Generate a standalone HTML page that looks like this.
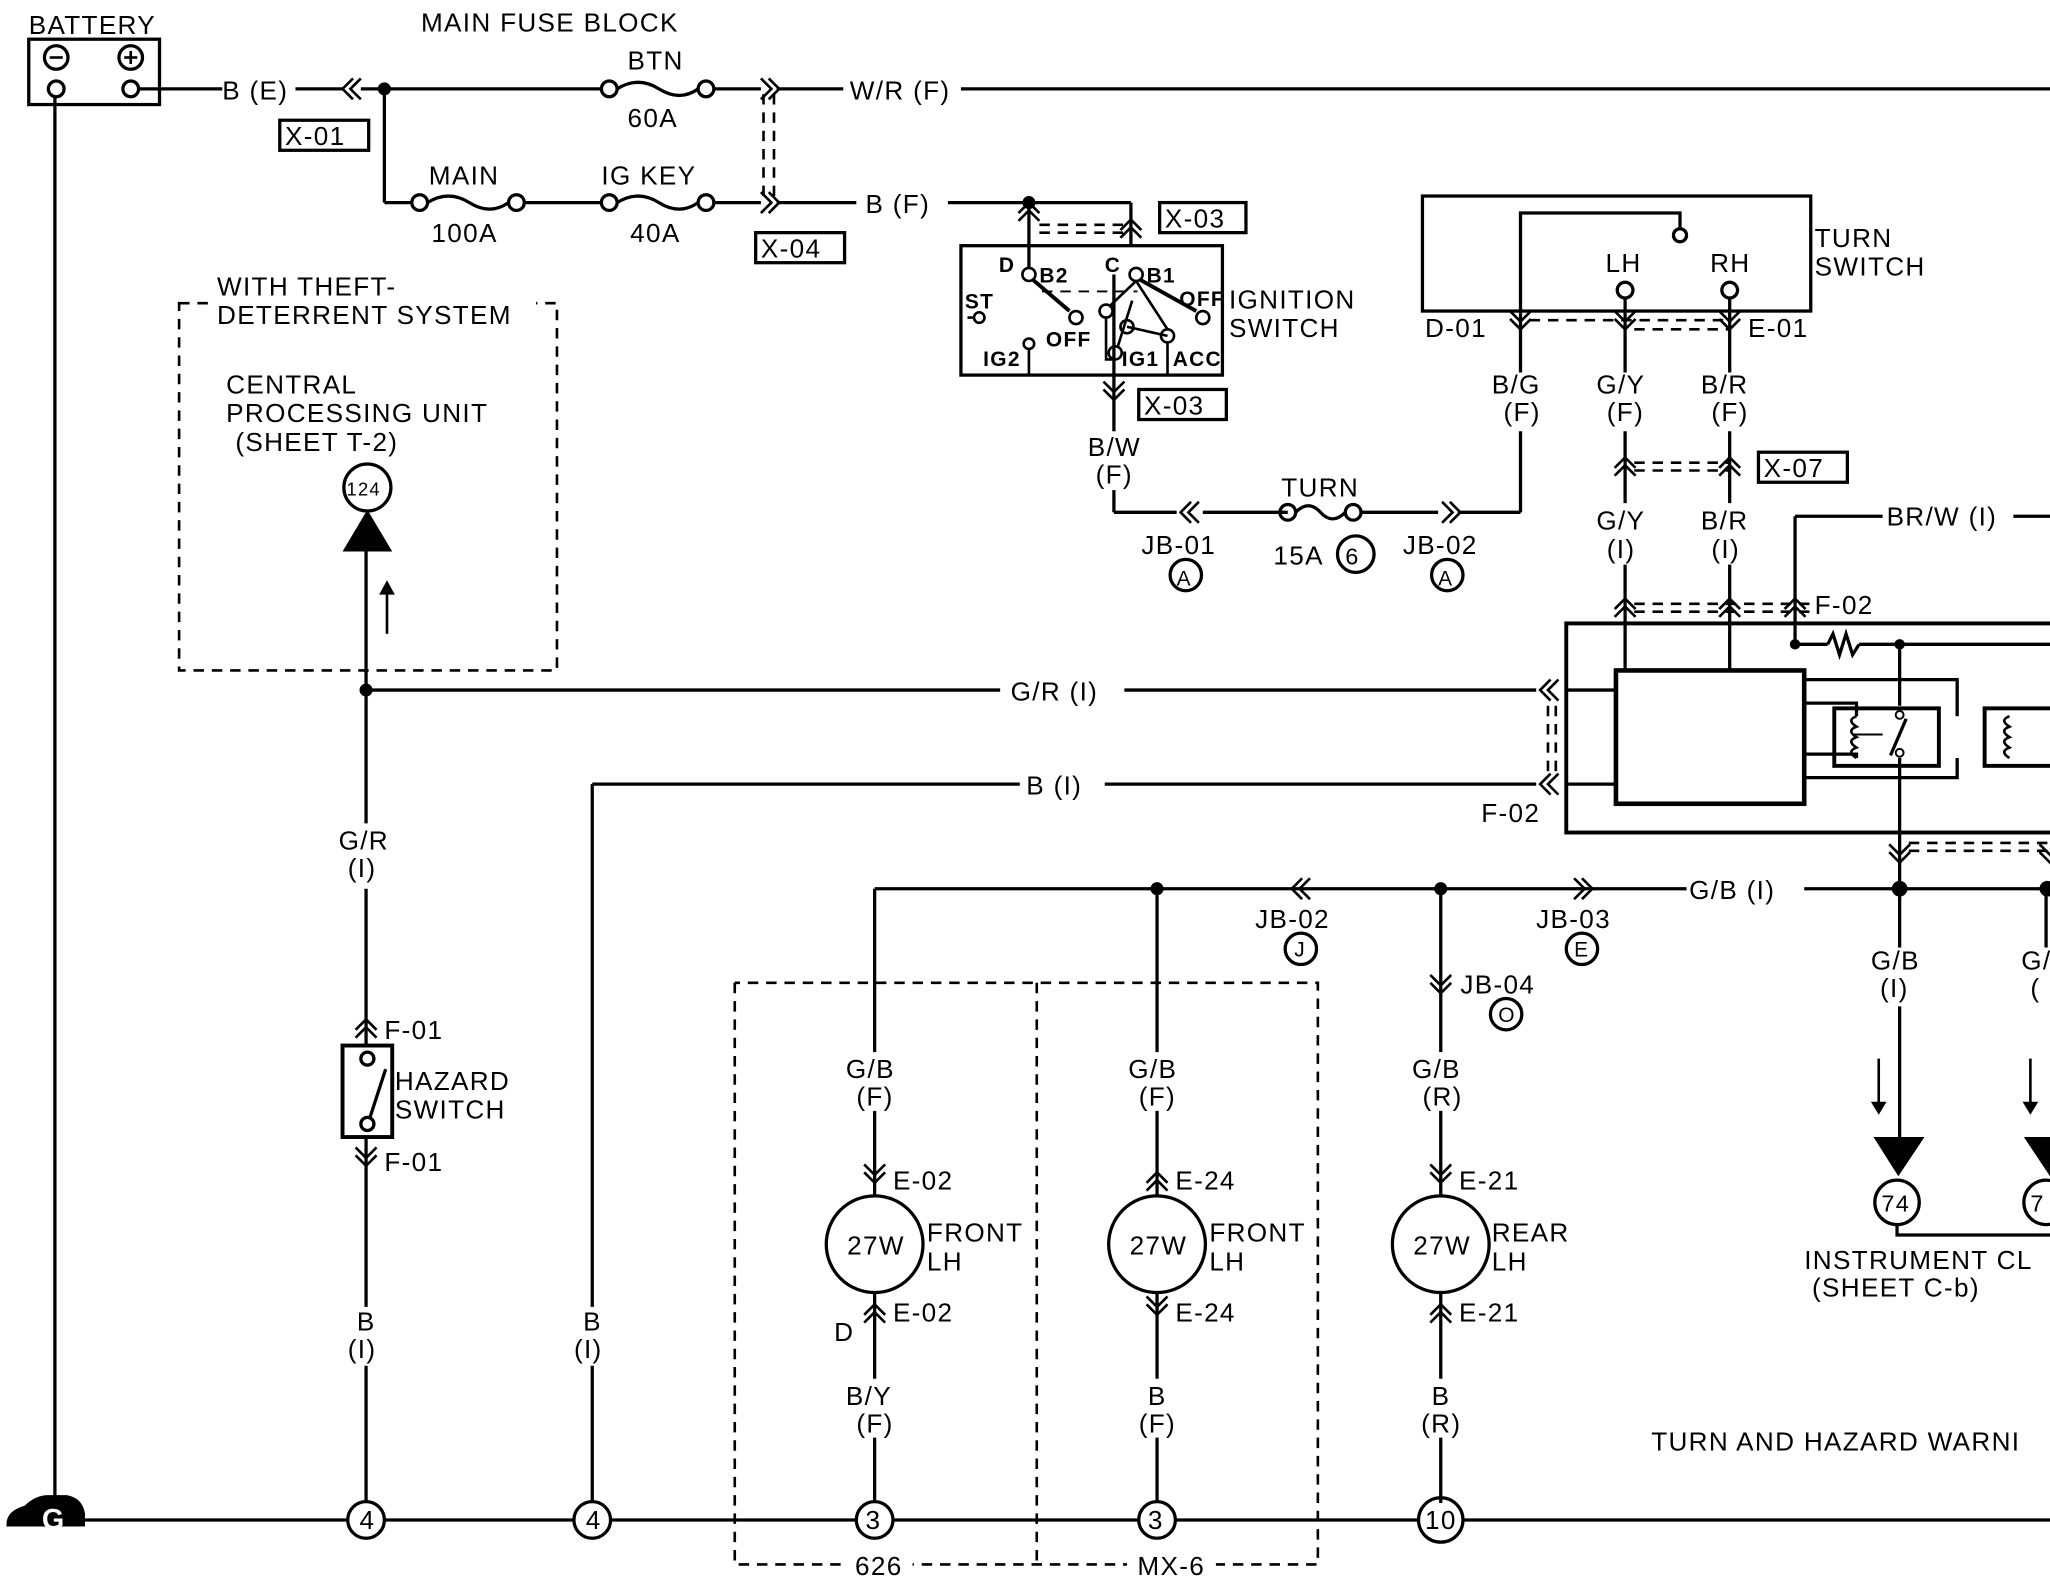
<!DOCTYPE html>
<html><head><meta charset="utf-8"><style>
html,body{margin:0;padding:0;background:#fff;}
svg{display:block;}
text{font-family:"Liberation Sans",sans-serif;font-size:20px;fill:#000;letter-spacing:1px;}
.s{font-size:16px;font-weight:bold;}
</style></head><body>
<svg width="2050" height="1584" viewBox="0 0 1568 1212" preserveAspectRatio="none" xmlns="http://www.w3.org/2000/svg">
<defs>
<g id="cu"><polyline points="-8,8 0,0 8,8" fill="none" stroke="#000" stroke-width="2"/><polyline points="-8,14 0,6 8,14" fill="none" stroke="#000" stroke-width="2"/></g>
<g id="cd"><polyline points="-8,-8 0,0 8,-8" fill="none" stroke="#000" stroke-width="2"/><polyline points="-8,-14 0,-6 8,-14" fill="none" stroke="#000" stroke-width="2"/></g>
<g id="cl"><polyline points="8,-8 0,0 8,8" fill="none" stroke="#000" stroke-width="2"/><polyline points="14,-8 6,0 14,8" fill="none" stroke="#000" stroke-width="2"/></g>
<g id="cr"><polyline points="-8,-8 0,0 -8,8" fill="none" stroke="#000" stroke-width="2"/><polyline points="-14,-8 -6,0 -14,8" fill="none" stroke="#000" stroke-width="2"/></g>
</defs>
<g stroke="#000" stroke-width="2.5" fill="none">
<!-- battery -->
<rect x="22" y="30" width="100" height="50"/>
<circle cx="43" cy="44" r="9"/><circle cx="100" cy="44" r="9"/>
<line x1="38" y1="44" x2="48" y2="44" stroke-width="2"/>
<line x1="95" y1="44" x2="105" y2="44" stroke-width="2"/><line x1="100" y1="39" x2="100" y2="49" stroke-width="2"/>
<circle cx="43" cy="68" r="6"/><circle cx="100" cy="68" r="6"/>
<line x1="106" y1="68" x2="170" y2="68"/>
<line x1="42" y1="74" x2="42" y2="1163"/>
<!-- top lines -->
<line x1="226" y1="68" x2="262" y2="68"/>
<line x1="276" y1="68" x2="460" y2="68"/>
<path d="M472,68 q16,-10 32,0 t30,0" />
<circle cx="466" cy="68" r="6"/><circle cx="540" cy="68" r="6"/>
<line x1="546" y1="68" x2="582" y2="68"/>
<line x1="594" y1="68" x2="645" y2="68"/>
<line x1="735" y1="68" x2="1568" y2="68"/>
<line x1="294" y1="68" x2="294" y2="155"/>
<line x1="294" y1="155" x2="315" y2="155"/>
<circle cx="321" cy="155" r="6"/><circle cx="395" cy="155" r="6"/>
<path d="M327,155 q16,-10 32,0 t30,0"/>
<line x1="401" y1="155" x2="460" y2="155"/>
<circle cx="466" cy="155" r="6"/><circle cx="540" cy="155" r="6"/>
<path d="M472,155 q16,-10 32,0 t30,0"/>
<line x1="546" y1="155" x2="582" y2="155"/>
<line x1="594" y1="155" x2="655" y2="155"/>
<line x1="725" y1="155" x2="865" y2="155"/>
<line x1="865" y1="155" x2="865" y2="188"/>
<line x1="787" y1="155" x2="787" y2="205"/>
<!-- ignition switch -->
<rect x="735" y="188" width="200" height="99"/>
<line x1="852" y1="210" x2="852" y2="290"/>
<line x1="852" y1="290" x2="852" y2="330"/>
<line x1="852" y1="375" x2="852" y2="392"/>
<line x1="852" y1="392" x2="900" y2="392"/>
<line x1="920" y1="392" x2="985" y2="392"/>
<circle cx="985" cy="392" r="6"/><circle cx="1035" cy="392" r="6"/>
<path d="M991,392 q10,-10 19,0 t19,0"/>
<line x1="1041" y1="392" x2="1100" y2="392"/>
<line x1="1115" y1="392" x2="1163" y2="392"/>
<line x1="1163" y1="392" x2="1163" y2="330"/>
<line x1="1163" y1="285" x2="1163" y2="240"/>
<!-- turn switch -->
<rect x="1088" y="150" width="297" height="88"/>
<polyline points="1163,240 1163,163 1285,163 1285,175"/>
<circle cx="1285" cy="180" r="5"/>
<line x1="1243" y1="228" x2="1243" y2="285"/>
<line x1="1323" y1="228" x2="1323" y2="285"/>
<circle cx="1243" cy="222" r="6"/><circle cx="1323" cy="222" r="6"/>
<line x1="1243" y1="330" x2="1243" y2="385"/>
<line x1="1323" y1="330" x2="1323" y2="385"/>
<line x1="1243" y1="432" x2="1243" y2="513"/>
<line x1="1323" y1="432" x2="1323" y2="513"/>
<line x1="1373" y1="395" x2="1440" y2="395"/>
<line x1="1540" y1="395" x2="1568" y2="395"/>
<line x1="1373" y1="395" x2="1373" y2="493"/>
<!-- module -->
<rect x="1198" y="477" width="380" height="160" stroke-width="3"/>
<rect x="1236" y="513" width="144" height="102" stroke-width="3.5"/>
<line x1="1373" y1="493" x2="1398" y2="493"/>
<path d="M1398,493 l4,-8 l5,16 l5,-16 l5,16 l5,-8"/>
<line x1="1422" y1="493" x2="1568" y2="493"/>
<line x1="1453" y1="493" x2="1453" y2="540"/>
<line x1="1453" y1="580" x2="1453" y2="680"/>
<rect x="1403" y="542" width="80" height="44" stroke-width="3"/>
<rect x="1518" y="542" width="60" height="44" stroke-width="3"/>
<polyline points="1380,538 1420,538 1420,548"/>
<polyline points="1380,577 1420,577 1420,580"/>
<path d="M1420,548 q-8,3 0,8 q-8,3 0,8 q-8,3 0,8 q-8,3 0,8" stroke-width="2"/>
<line x1="1418" y1="562" x2="1440" y2="562" stroke-width="1.5"/>
<polyline points="1380,520 1497,520 1497,548"/>
<polyline points="1380,595 1497,595 1497,580"/>
<path d="M1537,548 q-8,3 0,8 q-8,3 0,8 q-8,3 0,8 q-8,3 0,8" stroke-width="2"/>
<line x1="1446" y1="578" x2="1458" y2="550"/>
<circle cx="1453" cy="547" r="3" stroke-width="1.5"/><circle cx="1453" cy="576" r="3" stroke-width="1.5"/>
<line x1="1198" y1="528" x2="1236" y2="528"/>
<line x1="1198" y1="600" x2="1236" y2="600"/>
<!-- G/R & B(I) -->
<line x1="280" y1="528" x2="765" y2="528"/>
<line x1="860" y1="528" x2="1175" y2="528"/>
<line x1="453" y1="600" x2="780" y2="600"/>
<line x1="845" y1="600" x2="1175" y2="600"/>
<line x1="453" y1="600" x2="453" y2="1000"/>
<line x1="453" y1="1045" x2="453" y2="1150"/>
<!-- hazard -->
<line x1="280" y1="420" x2="280" y2="630"/>
<line x1="280" y1="680" x2="280" y2="800"/>
<rect x="262" y="800" width="38" height="70" stroke-width="3"/>
<circle cx="281" cy="810" r="5"/><circle cx="281" cy="860" r="5"/>
<line x1="283" y1="855" x2="295" y2="818"/>
<line x1="280" y1="870" x2="280" y2="1000"/>
<line x1="280" y1="1045" x2="280" y2="1150"/>
<line x1="296" y1="450" x2="296" y2="485" stroke-width="2"/>
<!-- G/B bus -->
<line x1="669" y1="680" x2="1290" y2="680"/>
<line x1="1380" y1="680" x2="1568" y2="680"/>
<line x1="669" y1="680" x2="669" y2="805"/>
<line x1="885" y1="680" x2="885" y2="805"/>
<line x1="1102" y1="680" x2="1102" y2="805"/>
<line x1="1453" y1="680" x2="1453" y2="725"/>
<line x1="1453" y1="770" x2="1453" y2="870"/>
<line x1="1565" y1="680" x2="1565" y2="725"/>
<line x1="1437" y1="810" x2="1437" y2="845" stroke-width="2"/>
<line x1="1553" y1="810" x2="1553" y2="845" stroke-width="2"/>
<!-- bulbs -->
<line x1="669" y1="850" x2="669" y2="915"/><line x1="885" y1="850" x2="885" y2="915"/><line x1="1102" y1="850" x2="1102" y2="915"/>
<circle cx="669" cy="952" r="37"/><circle cx="885" cy="952" r="37"/><circle cx="1102" cy="952" r="37"/>
<line x1="669" y1="989" x2="669" y2="1055"/><line x1="885" y1="989" x2="885" y2="1055"/><line x1="1102" y1="989" x2="1102" y2="1055"/>
<line x1="669" y1="1100" x2="669" y2="1150"/><line x1="885" y1="1100" x2="885" y2="1150"/><line x1="1102" y1="1100" x2="1102" y2="1150"/>
<!-- ground -->
<line x1="65" y1="1163" x2="266" y2="1163"/>
<line x1="294" y1="1163" x2="439" y2="1163"/>
<line x1="467" y1="1163" x2="655" y2="1163"/>
<line x1="683" y1="1163" x2="871" y2="1163"/>
<line x1="899" y1="1163" x2="1085" y2="1163"/>
<line x1="1119" y1="1163" x2="1568" y2="1163"/>
<circle cx="280" cy="1163" r="14"/><circle cx="453" cy="1163" r="14"/><circle cx="669" cy="1163" r="14"/><circle cx="885" cy="1163" r="14"/><circle cx="1102" cy="1163" r="17"/>
<circle cx="281" cy="373" r="18"/>
<circle cx="1451" cy="920" r="17"/><circle cx="1565" cy="920" r="17"/>
<polyline points="1451,937 1451,945 1568,945"/>
<circle cx="907" cy="440" r="12"/><circle cx="1107" cy="440" r="12"/><circle cx="1037" cy="424" r="14"/>
<circle cx="995" cy="726" r="12"/><circle cx="1210" cy="726" r="12"/><circle cx="1152" cy="776" r="12"/>
</g>
<!-- dashed -->
<g stroke="#000" stroke-width="2" fill="none" stroke-dasharray="8,6">
<rect x="137" y="232" width="289" height="281"/>
<line x1="584" y1="72" x2="584" y2="150"/><line x1="592" y1="72" x2="592" y2="150"/>
<line x1="795" y1="172" x2="865" y2="172"/><line x1="795" y1="178" x2="865" y2="178"/>
<line x1="1170" y1="245" x2="1323" y2="245"/><line x1="1250" y1="252" x2="1323" y2="252"/>
<line x1="1250" y1="354" x2="1323" y2="354"/><line x1="1250" y1="360" x2="1323" y2="360"/>
<line x1="1250" y1="462" x2="1385" y2="462"/><line x1="1250" y1="468" x2="1385" y2="468"/>
<line x1="1184" y1="540" x2="1184" y2="590"/><line x1="1190" y1="540" x2="1190" y2="590"/>
<line x1="1460" y1="645" x2="1568" y2="645"/><line x1="1460" y1="651" x2="1568" y2="651"/>
<polyline points="562,752 562,1197 1008,1197 1008,752 562,752"/>
<line x1="793" y1="752" x2="793" y2="1197"/>
<line x1="797" y1="223" x2="870" y2="223" stroke-width="1.5"/>
</g>
<rect x="160" y="212" width="250" height="40" fill="#fff"/>
<rect x="648" y="1187" width="50" height="22" fill="#fff"/>
<rect x="862" y="1187" width="68" height="22" fill="#fff"/>
<!-- chevrons -->
<use href="#cl" x="262" y="68"/><use href="#cr" x="596" y="68"/>
<use href="#cr" x="596" y="155"/>
<use href="#cu" x="787" y="155"/><use href="#cu" x="865" y="168"/>
<use href="#cd" x="852" y="306"/>
<use href="#cl" x="903" y="392"/><use href="#cr" x="1117" y="392"/>
<use href="#cd" x="1163" y="252"/><use href="#cd" x="1243" y="252"/><use href="#cd" x="1323" y="252"/>
<use href="#cu" x="1243" y="350"/><use href="#cu" x="1323" y="350"/>
<use href="#cu" x="1243" y="458"/><use href="#cu" x="1323" y="458"/><use href="#cu" x="1373" y="458"/>
<use href="#cl" x="1178" y="528"/><use href="#cl" x="1178" y="600"/>
<use href="#cd" x="1453" y="660"/><use href="#cd" x="1568" y="660"/>
<use href="#cl" x="988" y="680"/><use href="#cr" x="1218" y="680"/>
<use href="#cd" x="1102" y="760"/>
<use href="#cu" x="280" y="780"/><use href="#cd" x="280" y="892"/>
<use href="#cd" x="669" y="905"/><use href="#cu" x="885" y="897"/><use href="#cd" x="1102" y="905"/>
<use href="#cu" x="669" y="998"/><use href="#cd" x="885" y="1006"/><use href="#cu" x="1102" y="998"/>
<!-- fills -->
<g fill="#000">
<circle cx="294" cy="68" r="5"/><circle cx="787" cy="155" r="5"/><circle cx="280" cy="528" r="5"/>
<circle cx="885" cy="680" r="5"/><circle cx="1102" cy="680" r="5"/><circle cx="1453" cy="680" r="6"/><circle cx="1566" cy="680" r="6"/>
<circle cx="1373" cy="493" r="4"/><circle cx="1453" cy="493" r="4"/>
<polygon points="262,422 300,422 281,390"/>
<polygon points="1433,870 1472,870 1452,900"/><polygon points="1548,870 1568,870 1568,900"/>
<polygon points="290,455 296,444 302,455"/>
<polygon points="1431,843 1437,853 1443,843"/><polygon points="1547,843 1553,853 1559,843"/>
<path d="M5,1166 q0,-10 14,-14 q8,-8 18,-8 l14,0 q12,2 14,14 l0,10 l-60,0 z"/>
</g>
<text x="32" y="1170" style="fill:#fff;font-weight:bold;font-size:22px">G</text>
<!-- ignition internals -->
<g stroke="#000" stroke-width="2" fill="none">
<circle cx="787" cy="210" r="5"/><circle cx="869" cy="210" r="5"/>
<circle cx="823" cy="243" r="5"/><circle cx="920" cy="243" r="5"/>
<circle cx="749" cy="243" r="4"/><circle cx="787" cy="263" r="4"/>
<circle cx="846" cy="238" r="5"/><circle cx="862" cy="250" r="5"/>
<circle cx="853" cy="270" r="5"/><circle cx="893" cy="257" r="5"/>
<line x1="790" y1="214" x2="818" y2="238" stroke-width="3"/>
<line x1="872" y1="214" x2="915" y2="238" stroke-width="3"/>
<line x1="869" y1="215" x2="849" y2="234"/><line x1="869" y1="215" x2="893" y2="252"/>
<line x1="862" y1="250" x2="893" y2="257"/><line x1="866" y1="230" x2="855" y2="265"/>
<polyline points="846,243 846,275 852,275"/>
<line x1="740" y1="243" x2="745" y2="243"/>
<line x1="787" y1="267" x2="787" y2="287"/>
<line x1="893" y1="262" x2="893" y2="287"/>
</g>
<!-- boxes labels -->
<g stroke="#000" stroke-width="2.5" fill="none">
<rect x="214" y="92" width="68" height="23"/><rect x="578" y="178" width="68" height="23"/>
<rect x="887" y="155" width="66" height="23"/><rect x="871" y="298" width="67" height="23"/>
<rect x="1345" y="346" width="68" height="23"/>
</g>
<text x="22" y="26">BATTERY</text>
<text x="170" y="76">B (E)</text>
<text x="322" y="24">MAIN FUSE BLOCK</text>
<text x="480" y="53">BTN</text><text x="480" y="97">60A</text>
<text x="650" y="76">W/R (F)</text>
<text x="218" y="111">X-01</text>
<text x="328" y="141">MAIN</text><text x="330" y="185">100A</text>
<text x="460" y="141">IG KEY</text><text x="482" y="185">40A</text>
<text x="582" y="197">X-04</text>
<text x="662" y="163">B (F)</text>
<text x="891" y="174">X-03</text><text x="875" y="317">X-03</text>
<text x="940" y="236">IGNITION</text><text x="940" y="258">SWITCH</text>
<text class="s" x="764" y="208">D</text><text class="s" x="795" y="216">B2</text>
<text class="s" x="845" y="208">C</text><text class="s" x="877" y="216">B1</text>
<text class="s" x="902" y="234">OFF</text><text class="s" x="738" y="236">ST</text>
<text class="s" x="800" y="265">OFF</text><text class="s" x="752" y="280">IG2</text>
<text class="s" x="858" y="280">IG1</text><text class="s" x="897" y="280">ACC</text>
<text x="832" y="349">B/W</text><text x="838" y="370">(F)</text>
<text x="980" y="380">TURN</text><text x="974" y="432">15A</text>
<text x="873" y="424">JB-01</text><text x="900" y="448" style="font-size:16px">A</text>
<text x="1073" y="424">JB-02</text><text x="1100" y="448" style="font-size:16px">A</text>
<text x="1029" y="432" style="font-size:18px">6</text>
<text x="1388" y="189">TURN</text><text x="1388" y="211">SWITCH</text>
<text x="1228" y="208">LH</text><text x="1308" y="208">RH</text>
<text x="1090" y="258">D-01</text><text x="1337" y="258">E-01</text>
<text x="1141" y="301">B/G</text><text x="1150" y="322">(F)</text>
<text x="1221" y="301">G/Y</text><text x="1229" y="322">(F)</text>
<text x="1301" y="301">B/R</text><text x="1309" y="322">(F)</text>
<text x="1349" y="365">X-07</text>
<text x="1221" y="405">G/Y</text><text x="1229" y="427">(I)</text>
<text x="1301" y="405">B/R</text><text x="1309" y="427">(I)</text>
<text x="1443" y="402">BR/W (I)</text>
<text x="1388" y="470">F-02</text><text x="1133" y="629">F-02</text>
<text x="773" y="536">G/R (I)</text><text x="785" y="608">B (I)</text>
<text x="1292" y="688">G/B (I)</text>
<text x="166" y="226">WITH THEFT-</text><text x="166" y="248">DETERRENT SYSTEM</text>
<text x="173" y="301">CENTRAL</text><text x="173" y="323">PROCESSING UNIT</text><text x="180" y="345">(SHEET T-2)</text>
<text x="265" y="379" style="font-size:14px">124</text>
<text x="259" y="650">G/R</text><text x="266" y="671">(I)</text>
<text x="294" y="795">F-01</text><text x="294" y="896">F-01</text>
<text x="302" y="834">HAZARD</text><text x="302" y="856">SWITCH</text>
<text x="273" y="1018">B</text><text x="266" y="1039">(I)</text>
<text x="446" y="1018">B</text><text x="439" y="1039">(I)</text>
<text x="275" y="1170">4</text><text x="448" y="1170">4</text>
<text x="662" y="1170">3</text><text x="878" y="1170">3</text><text x="1090" y="1170">10</text>
<text x="654" y="1205">626</text><text x="870" y="1205">MX-6</text>
<text x="960" y="710">JB-02</text><text x="990" y="732" style="font-size:16px">J</text>
<text x="1175" y="710">JB-03</text><text x="1204" y="732" style="font-size:16px">E</text>
<text x="1117" y="760">JB-04</text><text x="1146" y="782" style="font-size:16px">O</text>
<text x="647" y="825">G/B</text><text x="655" y="846">(F)</text>
<text x="863" y="825">G/B</text><text x="871" y="846">(F)</text>
<text x="1080" y="825">G/B</text><text x="1088" y="846">(R)</text>
<text x="683" y="910">E-02</text><text x="899" y="910">E-24</text><text x="1116" y="910">E-21</text>
<text x="648" y="960">27W</text><text x="864" y="960">27W</text><text x="1081" y="960">27W</text>
<text x="709" y="950">FRONT</text><text x="709" y="972">LH</text>
<text x="925" y="950">FRONT</text><text x="925" y="972">LH</text>
<text x="1141" y="950">REAR</text><text x="1141" y="972">LH</text>
<text x="683" y="1011">E-02</text><text x="899" y="1011">E-24</text><text x="1116" y="1011">E-21</text>
<text x="638" y="1026">D</text>
<text x="647" y="1075">B/Y</text><text x="655" y="1096">(F)</text>
<text x="878" y="1075">B</text><text x="871" y="1096">(F)</text>
<text x="1095" y="1075">B</text><text x="1087" y="1096">(R)</text>
<text x="1431" y="742">G/B</text><text x="1438" y="763">(I)</text>
<text x="1546" y="742">G/</text><text x="1553" y="763">(</text>
<text x="1439" y="927" style="font-size:18px">74</text><text x="1553" y="927" style="font-size:18px">7</text>
<text x="1380" y="971">INSTRUMENT CL</text><text x="1386" y="992">(SHEET C-b)</text>
<text x="1263" y="1110">TURN AND HAZARD WARNI</text>
</svg>
</body></html>
